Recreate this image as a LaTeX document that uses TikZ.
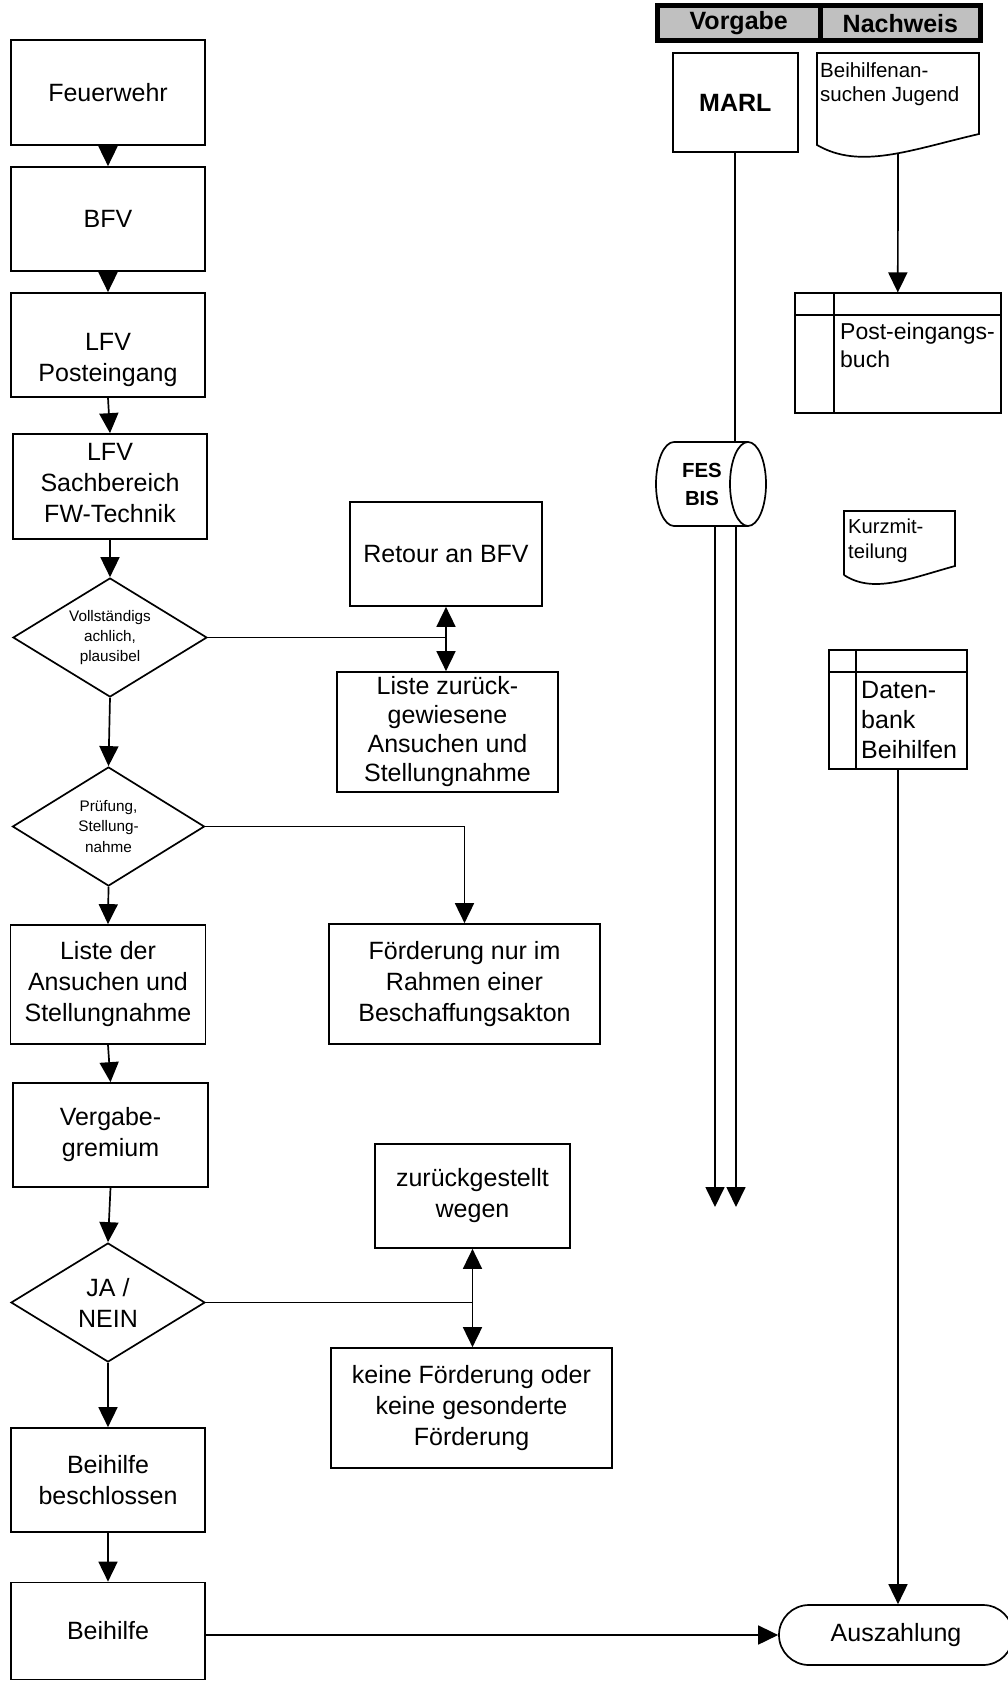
\documentclass[tikz,border=0pt]{standalone}
\usepackage{fontspec}
\setmainfont{Liberation Sans}
\usetikzlibrary{arrows.meta,shapes.geometric}
\definecolor{hdrgray}{RGB}{192,192,192}
\begin{document}
\begin{tikzpicture}[x=1pt,y=-1pt,
  lw/.style={line width=1.7pt},
  fbig/.style={font=\fontsize{25}{31}\selectfont},
  box/.style={draw,lw,rectangle,inner sep=0pt,align=center,fbig},
  txt/.style={inner sep=0pt,align=center,fbig},
  dia/.style={draw,lw,diamond,inner sep=0pt,shape aspect=1.63,align=center},
  fsmall/.style={font=\fontsize{15.3}{20.4}\selectfont},
  arr/.style={lw,-{Triangle[length=20pt,width=19pt]}},
  con/.style={lw},
  ltxt/.style={inner sep=0pt,align=left,anchor=west},
  hdr/.style={draw,line width=5pt,fill=hdrgray,inner sep=0pt,font=\fontsize{25}{31}\selectfont\bfseries},
]
\useasboundingbox (0,0) rectangle (1007,1681);

% ---------- left column ----------
\node[box,minimum width=194pt,minimum height=105pt] (fw) at (108,92.5) {Feuerwehr};
\node[box,minimum width=194pt,minimum height=104pt] (bfv) at (108,219) {BFV};
\node[box,minimum width=194pt,minimum height=104pt] (lfvp) at (108,345) {};
\node[txt] (lfvpt) at (108,359.5) {LFV\\Posteingang};
\node[box,minimum width=194pt,minimum height=105pt] (lfvs) at (110,486.5) {};
\node[txt] (lfvst) at (110,482.6) {LFV\\Sachbereich\\FW-Technik};
\node[dia,fsmall,minimum width=194pt,minimum height=119pt] (d1) at (110,637.5) {Vollständigs\\achlich,\\plausibel};
\node[dia,fsmall,minimum width=192pt,minimum height=119pt] (d2) at (108.5,826.5) {Prüfung,\\Stellung-\\nahme};
\node[box,minimum width=195pt,minimum height=119pt] (liste) at (108,984.5) {Liste der\\Ansuchen und\\Stellungnahme};
\node[box,minimum width=195pt,minimum height=104pt] (verg) at (110.5,1135) {Vergabe-\\gremium};
\node[dia,fbig,minimum width=194pt,minimum height=119pt] (d3) at (108,1302.5) {JA /\\NEIN};
\node[box,minimum width=194pt,minimum height=104pt] (beschl) at (108,1480) {Beihilfe\\beschlossen};
\node[box,minimum width=194pt,minimum height=97pt] (beih) at (108,1631) {Beihilfe};

% ---------- middle column ----------
\node[box,minimum width=192pt,minimum height=104pt] (retour) at (446,554) {Retour an BFV};
\node[box,font=\fontsize{25}{29}\selectfont,minimum width=221pt,minimum height=120pt] (lzur) at (447.5,732) {Liste zurück-\\gewiesene\\Ansuchen und\\Stellungnahme};
\node[box,minimum width=271pt,minimum height=120pt] (foerd) at (464.5,984) {Förderung nur im\\Rahmen einer\\Beschaffungsakton};
\node[box,minimum width=194.5pt,minimum height=104pt] (zur) at (472.5,1196) {zurückgestellt\\wegen};
\node[box,minimum width=281pt,minimum height=120pt] (keine) at (471.5,1408) {keine Förderung oder\\keine gesonderte\\Förderung};

% ---------- left column connectors ----------
\draw[arr] (fw.south) -- (bfv.north);
\draw[arr] (bfv.south) -- (lfvp.north);
\draw[arr] (lfvp.south) -- (lfvs.north);
\draw[arr] (lfvs.south) -- (d1.north);
\draw[arr] (d1.south) -- (d2.north);
\draw[arr] (d2.south) -- (liste.north);
\draw[arr] (liste.south) -- (verg.north);
\draw[arr] (verg.south) -- (d3.north);
\draw[arr] (d3.south) -- (beschl.north);
\draw[arr] (beschl.south) -- (beih.north);

% branches
\coordinate (j1) at (retour.south |- d1.east);
\draw[con] (d1.east) -- (j1);
\draw[arr] (j1) -- (retour.south);
\draw[arr] (j1) -- (j1 |- lzur.north);
\draw[arr] (d2.east) -| (foerd.north);
\coordinate (j3) at (zur.south |- d3.east);
\draw[con] (d3.east) -- (j3);
\draw[arr] (j3) -- (zur.south);
\draw[arr] (j3) -- (j3 |- keine.north);

% ---------- right side ----------
\node[hdr,minimum width=162.5pt,minimum height=35pt] (vorg) at (738.75,23.3) {Vorgabe};
\node[hdr,minimum width=160.8pt,minimum height=35pt] (nach) at (900.4,23.3) {Nachweis};

\node[box,font=\fontsize{25}{31}\selectfont\bfseries,minimum width=124.7pt,minimum height=99.6pt] (marl) at (735.3,102.5) {MARL};

% document: Beihilfenansuchen Jugend
\draw[lw] (817,53) -- (979,53) -- (979,134) .. controls (910,150) and (860,170) .. (817,145) -- cycle;
\node[ltxt,font=\fontsize{20.5}{24}\selectfont] (doc1) at (820,84) {Beihilfenan-\\suchen Jugend};
\coordinate (doc1b) at (898,153.5);

% Post-eingangsbuch
\node[draw,lw,minimum width=205.7pt,minimum height=119.4pt,inner sep=0pt] (pbuch) at (897.8,353) {};
\draw[lw] ([xshift=40pt]pbuch.north west) -- ([xshift=40pt]pbuch.south west);
\draw[lw] ([yshift=-22.7pt]pbuch.north west) -- ([yshift=-22.7pt]pbuch.north east);
\node[ltxt,font=\fontsize{23}{27.5}\selectfont] (pbucht) at (840,345.4) {Post-eingangs-\\buch};
\draw[arr] (doc1b) -- (pbuch.north);

% cylinder FES BIS
\draw[lw] (748,442) -- (674,442) .. controls (664.06,442) and (656,460.8) .. (656,484)
  .. controls (656,507.2) and (664.06,526) .. (674,526) -- (748,526);
\draw[lw] (748,484) ellipse [x radius=18pt, y radius=42pt];
\node[inner sep=0pt,align=center,font=\fontsize{20.4}{28}\selectfont\bfseries] (fes) at (702,484) {FES\\BIS};
\coordinate (cylt) at (736,442);
\coordinate (cb1) at (715,526);
\coordinate (cb2) at (736,526);
\coordinate (e1) at (715,1207);
\coordinate (e2) at (736,1207);
\draw[con] (marl.south) -- (marl.south |- cylt);
\draw[arr] (cb1) -- (e1);
\draw[arr] (cb2) -- (e2);

% Kurzmitteilung
\draw[lw] (844,575) -- (844,511) -- (955,511) -- (955,566) .. controls (908,579) and (873,594) .. (844,575);
\node[ltxt,font=\fontsize{20.2}{25}\selectfont] (kurz) at (848,540.6) {Kurzmit-\\teilung};

% Datenbank Beihilfen
\node[draw,lw,minimum width=137.4pt,minimum height=119pt,inner sep=0pt] (db) at (898,709.5) {};
\draw[lw] ([xshift=27.4pt]db.north west) -- ([xshift=27.4pt]db.south west);
\draw[lw] ([yshift=-22.7pt]db.north west) -- ([yshift=-22.7pt]db.north east);
\node[ltxt,font=\fontsize{25}{30}\selectfont] (dbt) at (861,719.9) {Daten-\\bank\\Beihilfen};

% Auszahlung
\node[draw,lw,rounded corners=30pt,minimum width=234pt,minimum height=60pt,fbig] (ausz) at (896,1635) {Auszahlung};
\draw[arr] (db.south) -- (db.south |- ausz.north);
\draw[arr] (ausz.west -| beih.east) -- (ausz.west);
\end{tikzpicture}
\end{document}
